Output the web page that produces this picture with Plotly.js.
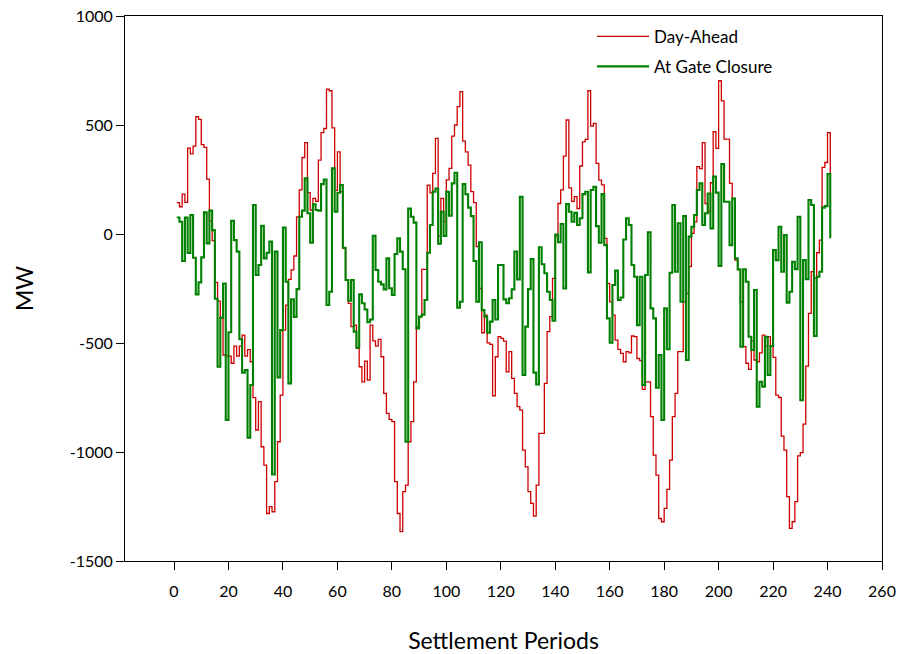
<!DOCTYPE html>
<html>
<head>
<meta charset="utf-8">
<script src="https://cdn.plot.ly/plotly-3.0.1.min.js"></script>
<style>html,body{margin:0;padding:0;background:#fff;}#chart{width:903px;height:654px;}</style>
</head>
<body>
<div id="chart"></div>
<script>
// Settlement periods 1..241
const periods = [];
for (let i = 1; i <= 241; i++) periods.push(i);

const dayAhead = [
 144,125,183,145,394,368,403,538,526,410,
 397,252,60,-30,-222,-308,-387,-555,-560,-560,
 -593,-514,-560,-514,-464,-560,-530,-586,-751,-899,
 -769,-976,-1060,-1282,-1251,-1274,-1136,-953,-739,-441,
 -326,-208,-165,-101,79,202,351,419,190,110,
 163,150,339,465,484,665,657,487,200,377,
 194,-66,-211,-318,-425,-418,-525,-609,-678,-583,
 -670,-418,-490,-514,-483,-563,-731,-823,-850,-861,
 -1136,-1282,-1365,-1182,-1152,-953,-861,-678,-425,-379,
 -162,-162,224,189,278,439,-10,163,56,248,
 301,449,500,584,653,426,377,316,194,144,
 -58,-250,-453,-372,-499,-506,-743,-563,-471,-479,
 -491,-632,-540,-662,-731,-792,-808,-991,-1068,-1182,
 -1236,-1294,-1152,-915,-915,-685,-448,-379,-204,-9,
 140,202,357,523,212,150,171,117,312,423,
 434,657,495,507,324,247,225,-20,-227,-311,
 -372,-487,-529,-548,-586,-540,-545,-468,-471,-571,
 -581,-713,-678,-678,-838,-1014,-1106,-1305,-1320,-1259,
 -1171,-1037,-838,-731,-540,-540,-311,-272,-150,3,
 56,309,300,419,140,102,235,469,393,703,
 611,435,435,232,163,-120,-165,-311,-517,-593,
 -621,-490,-578,-586,-545,-464,-514,-471,-517,-566,
 -739,-750,-927,-991,-1205,-1350,-1320,-1228,-1018,-1003,
 -872,-606,-364,-173,-204,-86,-28,306,328,465,
 270
];

const gateClosure = [
 76,56,-124,75,-87,87,-109,-277,-222,-107,
 99,-43,107,18,-297,-609,-384,-227,-853,-451,
 61,-28,-81,-483,-636,-624,-934,-693,133,-188,
 -142,38,-112,-86,-35,-1103,-81,-658,-441,30,
 -219,-685,-299,-380,-253,79,107,255,95,-40,
 136,110,107,229,250,-326,-265,301,102,189,
 225,-63,-211,-306,-211,-448,-522,-277,-318,-346,
 -405,-392,-8,-165,-219,-231,-254,-112,-249,-280,
 -92,-20,-81,-162,-953,117,79,52,-433,-379,
 -370,-303,-86,41,194,209,-45,102,-9,194,
 84,232,281,-338,-311,229,182,121,82,-124,
 -311,-38,-349,-379,-453,-402,-303,-392,-142,-142,
 -300,-318,-295,-254,-81,-208,171,-647,-425,-253,
 -115,-636,-690,-61,-139,-180,-265,-303,-398,-2,
 -38,46,-250,137,102,56,97,41,72,183,
 194,-176,202,217,36,-40,183,-51,-387,-499,
 -234,-168,-303,-291,-25,72,41,-142,-196,-418,
 -196,-693,-188,8,-341,-387,-705,-555,-853,-341,
 -529,-178,133,-173,49,-311,82,-578,-12,33,
 87,202,232,41,95,186,26,263,190,-147,
 321,148,148,-51,163,-112,-162,-517,-162,-219,
 -471,-532,-257,-792,-678,-700,-471,-647,-514,-74,
 -120,33,-173,-5,-315,-265,-127,-161,79,-762,
 -120,-207,156,133,-468,-196,-173,121,128,275,
 -20
];

const xTicks = [0,20,40,60,80,100,120,140,160,180,200,220,240,260];
const yTicks = [-1500,-1000,-500,0,500,1000];

const fontFam = 'Lato, "Open Sans", "DejaVu Sans", sans-serif';

const traces = [
  {
    x: periods, y: dayAhead, type: 'scatter', mode: 'lines',
    name: 'Day-Ahead', legendgroup: 'a',
    line: {shape: 'hv', color: '#cc0000', width: 1.3}
  },
  {
    x: periods, y: gateClosure, type: 'scatter', mode: 'lines',
    name: 'At Gate Closure', legendgroup: 'b',
    line: {shape: 'hv', color: '#008000', width: 2.1}
  }
];

const layout = {
  width: 903, height: 654,
  margin: {l: 125, r: 21, t: 16, b: 93},
  paper_bgcolor: '#ffffff', plot_bgcolor: '#ffffff',
  font: {family: fontFam, color: '#000000', size: 16},
  showlegend: true,
  legend: {
    x: 0.617, y: 0.995, xanchor: 'left', yanchor: 'top',
    bgcolor: 'rgba(0,0,0,0)', borderwidth: 0,
    font: {family: fontFam, size: 17, color: '#000'},
    itemwidth: 52,
    tracegroupgap: 5
  },
  xaxis: {
    range: [-18, 260], tickvals: xTicks, ticktext: xTicks.map(String),
    showgrid: false, zeroline: false,
    showline: true, linecolor: '#000', linewidth: 1, mirror: true,
    ticks: 'outside', ticklen: 8, tickcolor: '#000', tickwidth: 1,
    ticklabelstandoff: 8,
    tickfont: {family: fontFam, size: 16, color: '#000'},
    title: {text: 'Settlement Periods', font: {family: fontFam, size: 23, color: '#000'}, standoff: 33}
  },
  yaxis: {
    range: [-1500, 1000], tickvals: yTicks, ticktext: yTicks.map(String),
    showgrid: false, zeroline: false,
    showline: true, linecolor: '#000', linewidth: 1, mirror: true,
    ticks: 'outside', ticklen: 8, tickcolor: '#000', tickwidth: 1,
    tickfont: {family: fontFam, size: 16, color: '#000'},
    title: {text: 'MW', font: {family: fontFam, size: 23, color: '#000'}, standoff: 29}
  }
};

Plotly.newPlot('chart', traces, layout, {displayModeBar: false, staticPlot: true});
</script>
</body>
</html>
